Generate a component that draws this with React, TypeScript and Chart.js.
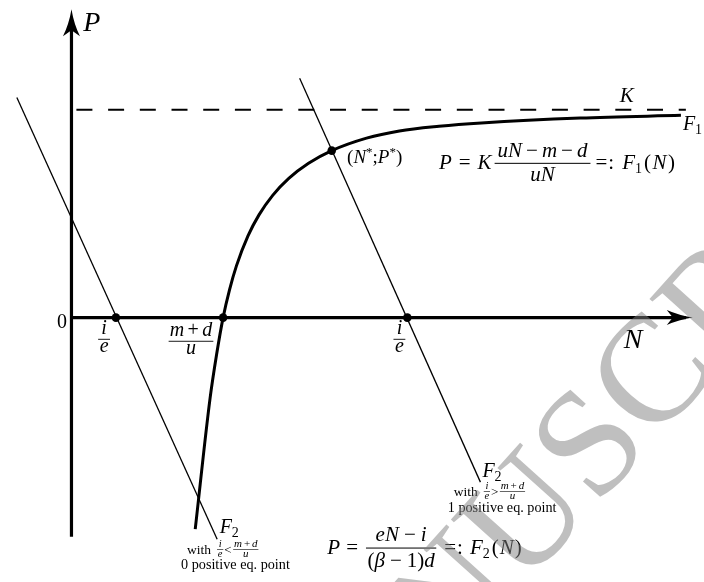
import React, { useEffect, useRef } from "react";
import { Chart, registerables } from "chart.js";

Chart.register(...registerables);

const W = 704;
const H = 582;

// Diagram units: N to the right, P upward, origin at the crossing of the axes.
// F1 curve P = K (uN - m - d)/(uN)
const f1N = [125.3, 140.3, 147, 153.5, 160, 167, 178.7, 190, 203.7, 220, 240, 263.5, 298.7, 332, 372, 415, 515, 617];
const f1P = [-214.7, -82, -37, 0, 28.2, 52.5, 82.9, 104.5, 124.1, 141.3, 156.6, 169.5, 182.2, 189.5, 194.2, 197.6, 202.6, 205.3];
// F2 line, case i/e < (m+d)/u (0 positive equilibrium)
const f2aN = [-55.3, 147.5];
const f2aP = [223.5, -225];
// F2 line, case i/e > (m+d)/u (1 positive equilibrium)
const f2bN = [231, 414];
const f2bP = [243, -167];
// carrying capacity K (dashed)
const kN = [5, 622];
const kP = [211, 211];
// equilibrium / intercept points
const eqN = [45, 153.5, 340, 263.5];
const eqP = [0, 0, 0, 169.5];
// axes
const axisHN = [0, 622];
const axisHP = [0, 0];
const axisVN = [0, 0];
const axisVP = [-222.5, 300];
const arrowTipN = 629;
const arrowTipP = 313;

const WATERMARK = "ACCEPTED MANUSCRIPT";

type Seg = { t: string; f: string; dx?: number; dy?: number };
const SERIF = '"Liberation Serif", "DejaVu Serif", serif';
const it = (s: number) => `italic ${s}px ${SERIF}`;
const rm = (s: number) => `${s}px ${SERIF}`;

function runWidth(ctx: CanvasRenderingContext2D, segs: Seg[]) {
  let w = 0;
  for (const s of segs) {
    ctx.font = s.f;
    w += (s.dx || 0) + ctx.measureText(s.t).width;
  }
  return w;
}
function drawRun(ctx: CanvasRenderingContext2D, x: number, y: number, segs: Seg[]) {
  let cx = x;
  for (const s of segs) {
    ctx.font = s.f;
    cx += s.dx || 0;
    ctx.fillText(s.t, cx, y + (s.dy || 0));
    cx += ctx.measureText(s.t).width;
  }
  return cx;
}
type FracOpt = { up: number; down: number; pad: number; lw: number };
function fracWidth(ctx: CanvasRenderingContext2D, num: Seg[], den: Seg[], o: FracOpt) {
  return Math.max(runWidth(ctx, num), runWidth(ctx, den)) + 2 * o.pad;
}
function drawFrac(ctx: CanvasRenderingContext2D, x: number, barY: number, num: Seg[], den: Seg[], o: FracOpt) {
  const nw = runWidth(ctx, num);
  const dw = runWidth(ctx, den);
  const w = Math.max(nw, dw) + 2 * o.pad;
  ctx.fillRect(x, barY - o.lw / 2, w, o.lw);
  drawRun(ctx, x + (w - nw) / 2, barY - o.up, num);
  drawRun(ctx, x + (w - dw) / 2, barY + o.down, den);
  return x + w;
}

const pts = (xs: number[], ys: number[]) => xs.map((x, i) => ({ x, y: ys[i] }));

const diagramPlugin = {
  id: "diagram",
  afterDatasetsDraw(chart: any) {
    const ctx: CanvasRenderingContext2D = chart.ctx;
    const xs = chart.scales.x;
    const ys = chart.scales.y;
    const X = (n: number) => xs.getPixelForValue(n);
    const Y = (p: number) => ys.getPixelForValue(p);
    ctx.save();
    ctx.fillStyle = "#000";
    ctx.strokeStyle = "#000";

    // arrow heads
    const vx = X(0), vy = Y(arrowTipP);
    ctx.beginPath();
    ctx.moveTo(vx, vy);
    ctx.quadraticCurveTo(vx - 2.5, vy + 15, vx - 8.5, vy + 27);
    ctx.lineTo(vx, vy + 21);
    ctx.lineTo(vx + 8.5, vy + 27);
    ctx.quadraticCurveTo(vx + 2.5, vy + 15, vx, vy);
    ctx.closePath();
    ctx.fill();
    const hx = X(arrowTipN), hy = Y(0);
    ctx.beginPath();
    ctx.moveTo(hx, hy);
    ctx.quadraticCurveTo(hx - 14, hy - 2.2, hx - 26, hy - 7.5);
    ctx.lineTo(hx - 20, hy);
    ctx.lineTo(hx - 26, hy + 7.5);
    ctx.quadraticCurveTo(hx - 14, hy + 2.2, hx, hy);
    ctx.closePath();
    ctx.fill();

    ctx.textBaseline = "alphabetic";
    ctx.textAlign = "left";

    // axis names
    drawRun(ctx, X(12), Y(291), [{ t: "P", f: it(28) }]);
    drawRun(ctx, X(559), Y(-31), [{ t: "N", f: it(28) }]);
    // 0
    ctx.font = rm(20);
    const zw = ctx.measureText("0").width;
    ctx.fillText("0", X(-9.5) - zw / 2, Y(-11));
    // K and F1
    drawRun(ctx, X(555), Y(219), [{ t: "K", f: it(21) }]);
    drawRun(ctx, X(619), Y(190), [{ t: "F", f: it(20) }, { t: "1", f: rm(14), dy: 4 }]);
    // (N*;P*)
    drawRun(ctx, X(279), Y(157), [
      { t: "(", f: rm(19) },
      { t: "N", f: it(19) },
      { t: "*", f: rm(13), dy: -7 },
      { t: ";", f: rm(19) },
      { t: "P", f: it(19) },
      { t: "*", f: rm(13), dy: -7 },
      { t: ")", f: rm(19) },
    ]);

    // F1 formula
    {
      const base = Y(151);
      let x = drawRun(ctx, X(372), base, [
        { t: "P", f: it(21) },
        { t: "=", f: rm(21), dx: 7 },
        { t: "K", f: it(21), dx: 7 },
      ]);
      x = drawFrac(
        ctx,
        x + 3,
        base - 5.5,
        [
          { t: "u", f: it(21) },
          { t: "N", f: it(21) },
          { t: "−", f: rm(21), dx: 4 },
          { t: "m", f: it(21), dx: 4 },
          { t: "−", f: rm(21), dx: 4 },
          { t: "d", f: it(21), dx: 4 },
        ],
        [
          { t: "u", f: it(21) },
          { t: "N", f: it(21) },
        ],
        { up: 6.5, down: 18, pad: 3, lw: 1 }
      );
      drawRun(ctx, x + 5, base, [
        { t: "=", f: rm(21) },
        { t: ":", f: rm(21), dx: 1 },
        { t: "F", f: it(21), dx: 8 },
        { t: "1", f: rm(14), dy: 4 },
        { t: "(", f: rm(21), dx: 2 },
        { t: "N", f: it(21), dx: 1.5 },
        { t: ")", f: rm(21), dx: 1.5 },
      ]);
    }

    // intercept labels on N axis
    const big: FracOpt = { up: 5, down: 13, pad: 1.5, lw: 0.9 };
    const ie = () => [[{ t: "i", f: it(20) }], [{ t: "e", f: it(20) }]] as [Seg[], Seg[]];
    {
      const [n, d] = ie();
      const w = fracWidth(ctx, n, d, big);
      drawFrac(ctx, X(33) - w / 2, Y(-22), n, d, big);
    }
    {
      const [n, d] = ie();
      const w = fracWidth(ctx, n, d, big);
      drawFrac(ctx, X(332) - w / 2, Y(-22), n, d, big);
    }
    {
      const n: Seg[] = [
        { t: "m", f: it(20) },
        { t: "+", f: rm(20), dx: 3.5 },
        { t: "d", f: it(20), dx: 3.5 },
      ];
      const d: Seg[] = [{ t: "u", f: it(20) }];
      const o: FracOpt = { up: 5, down: 13, pad: 1, lw: 0.9 };
      const w = fracWidth(ctx, n, d, o);
      drawFrac(ctx, X(121) - w / 2, Y(-24), n, d, o);
    }

    // F2 labels
    const tiny: FracOpt = { up: 2.5, down: 7.5, pad: 0.8, lw: 0.6 };
    const smallCond = (x0: number, base: number, rel: string) => {
      let x = drawRun(ctx, x0, base, [{ t: "with", f: rm(13.5) }]);
      x = drawFrac(ctx, x + 6, base - 4.5, [{ t: "i", f: it(10.5) }], [{ t: "e", f: it(10.5) }], tiny);
      x = drawRun(ctx, x + 1, base, [{ t: rel, f: rm(13) }]);
      drawFrac(
        ctx,
        x + 1.5,
        base - 4.5,
        [
          { t: "m", f: it(11) },
          { t: "+", f: rm(11), dx: 2 },
          { t: "d", f: it(11), dx: 2 },
        ],
        [{ t: "u", f: it(11) }],
        tiny
      );
    };
    const centered = (txt: string, cx: number, base: number) => {
      ctx.font = rm(14.2);
      const w = ctx.measureText(txt).width;
      ctx.fillText(txt, cx - w / 2, base);
    };
    drawRun(ctx, X(150), Y(-219), [{ t: "F", f: it(20) }, { t: "2", f: rm(14), dy: 4 }]);
    smallCond(X(117), Y(-240), "<");
    centered("0 positive eq. point", X(166), Y(-255));

    drawRun(ctx, X(416), Y(-162), [{ t: "F", f: it(20) }, { t: "2", f: rm(14), dy: 4 }]);
    smallCond(X(387), Y(-181), ">");
    centered("1 positive eq. point", X(436), Y(-197));

    // F2 formula
    {
      const base = Y(-240);
      let x = drawRun(ctx, X(259), base, [
        { t: "P", f: it(21) },
        { t: "=", f: rm(21), dx: 6 },
      ]);
      x = drawFrac(
        ctx,
        x + 8,
        base - 6,
        [
          { t: "e", f: it(21) },
          { t: "N", f: it(21) },
          { t: "−", f: rm(21), dx: 5 },
          { t: "i", f: it(21), dx: 5 },
        ],
        [
          { t: "(", f: rm(21) },
          { t: "β", f: it(21) },
          { t: "−", f: rm(21), dx: 5 },
          { t: "1", f: rm(21), dx: 5 },
          { t: ")", f: rm(21) },
          { t: "d", f: it(21) },
        ],
        { up: 7, down: 19, pad: 1.5, lw: 1 }
      );
      drawRun(ctx, x + 8, base, [
        { t: "=", f: rm(21) },
        { t: ":", f: rm(21), dx: 1 },
        { t: "F", f: it(21), dx: 7 },
        { t: "2", f: rm(14), dy: 4 },
        { t: "(", f: rm(21), dx: 2 },
        { t: "N", f: it(21), dx: 1 },
        { t: ")", f: rm(21), dx: 1 },
      ]);
    }

    // watermark
    {
      const size = 152;
      ctx.font = `${size}px "Liberation Serif"`;
      const prefix = "ACCEPTED MAN";
      const pw = ctx.measureText(prefix).width;
      const uw = ctx.measureText("U").width;
      const capH = 0.662 * size;
      const th = (-48 * Math.PI) / 180;
      const ox = uw / 2, oy = -capH / 2;
      const sx = ox * Math.cos(th) - oy * Math.sin(th);
      const sy = ox * Math.sin(th) + oy * Math.cos(th);
      const tx = 522 - sx, ty = 514 - sy;
      ctx.translate(tx, ty);
      ctx.rotate(th);
      ctx.fillStyle = "rgba(128,128,128,0.5)";
      ctx.fillText(WATERMARK, -pw, 0);
    }
    ctx.restore();
  },
};

export default function App() {
  const ref = useRef<HTMLCanvasElement | null>(null);
  useEffect(() => {
    document.body.style.margin = "0";
    if (!ref.current) return;
    const line = (data: any[], width: number, extra: any = {}) => ({
      data,
      showLine: true,
      borderColor: "#000",
      backgroundColor: "#000",
      borderWidth: width,
      pointRadius: 0,
      fill: false,
      ...extra,
    });
    const chart = new Chart(ref.current, {
      type: "scatter",
      data: {
        datasets: [
          {
            data: pts(eqN, eqP),
            showLine: false,
            pointRadius: 4.3,
            pointBackgroundColor: "#000",
            pointBorderWidth: 0,
          },
          line(pts(f1N, f1P), 3, { cubicInterpolationMode: "monotone" }),
          line(pts(f2aN, f2aP), 1.3),
          line(pts(f2bN, f2bP), 1.3),
          line(pts(kN, kP), 2, { borderDash: [16, 15.7] }),
          line(pts(axisHN, axisHP), 3.2),
          line(pts(axisVN, axisVP), 3.2, { borderCapStyle: "butt" }),
        ] as any,
      },
      options: {
        animation: false,
        responsive: false,
        devicePixelRatio: 1,
        layout: { padding: 0 },
        plugins: {
          legend: { display: false },
          tooltip: { enabled: false },
          title: { display: false },
        },
        scales: {
          x: { type: "linear", min: -68, max: 636, display: false },
          y: { type: "linear", min: -264, max: 318, display: false },
        },
      } as any,
      plugins: [diagramPlugin],
    });
    return () => chart.destroy();
  }, []);
  return (
    <div style={{ width: W, height: H, background: "#fff" }}>
      <canvas ref={ref} width={W} height={H} style={{ display: "block" }} />
    </div>
  );
}
